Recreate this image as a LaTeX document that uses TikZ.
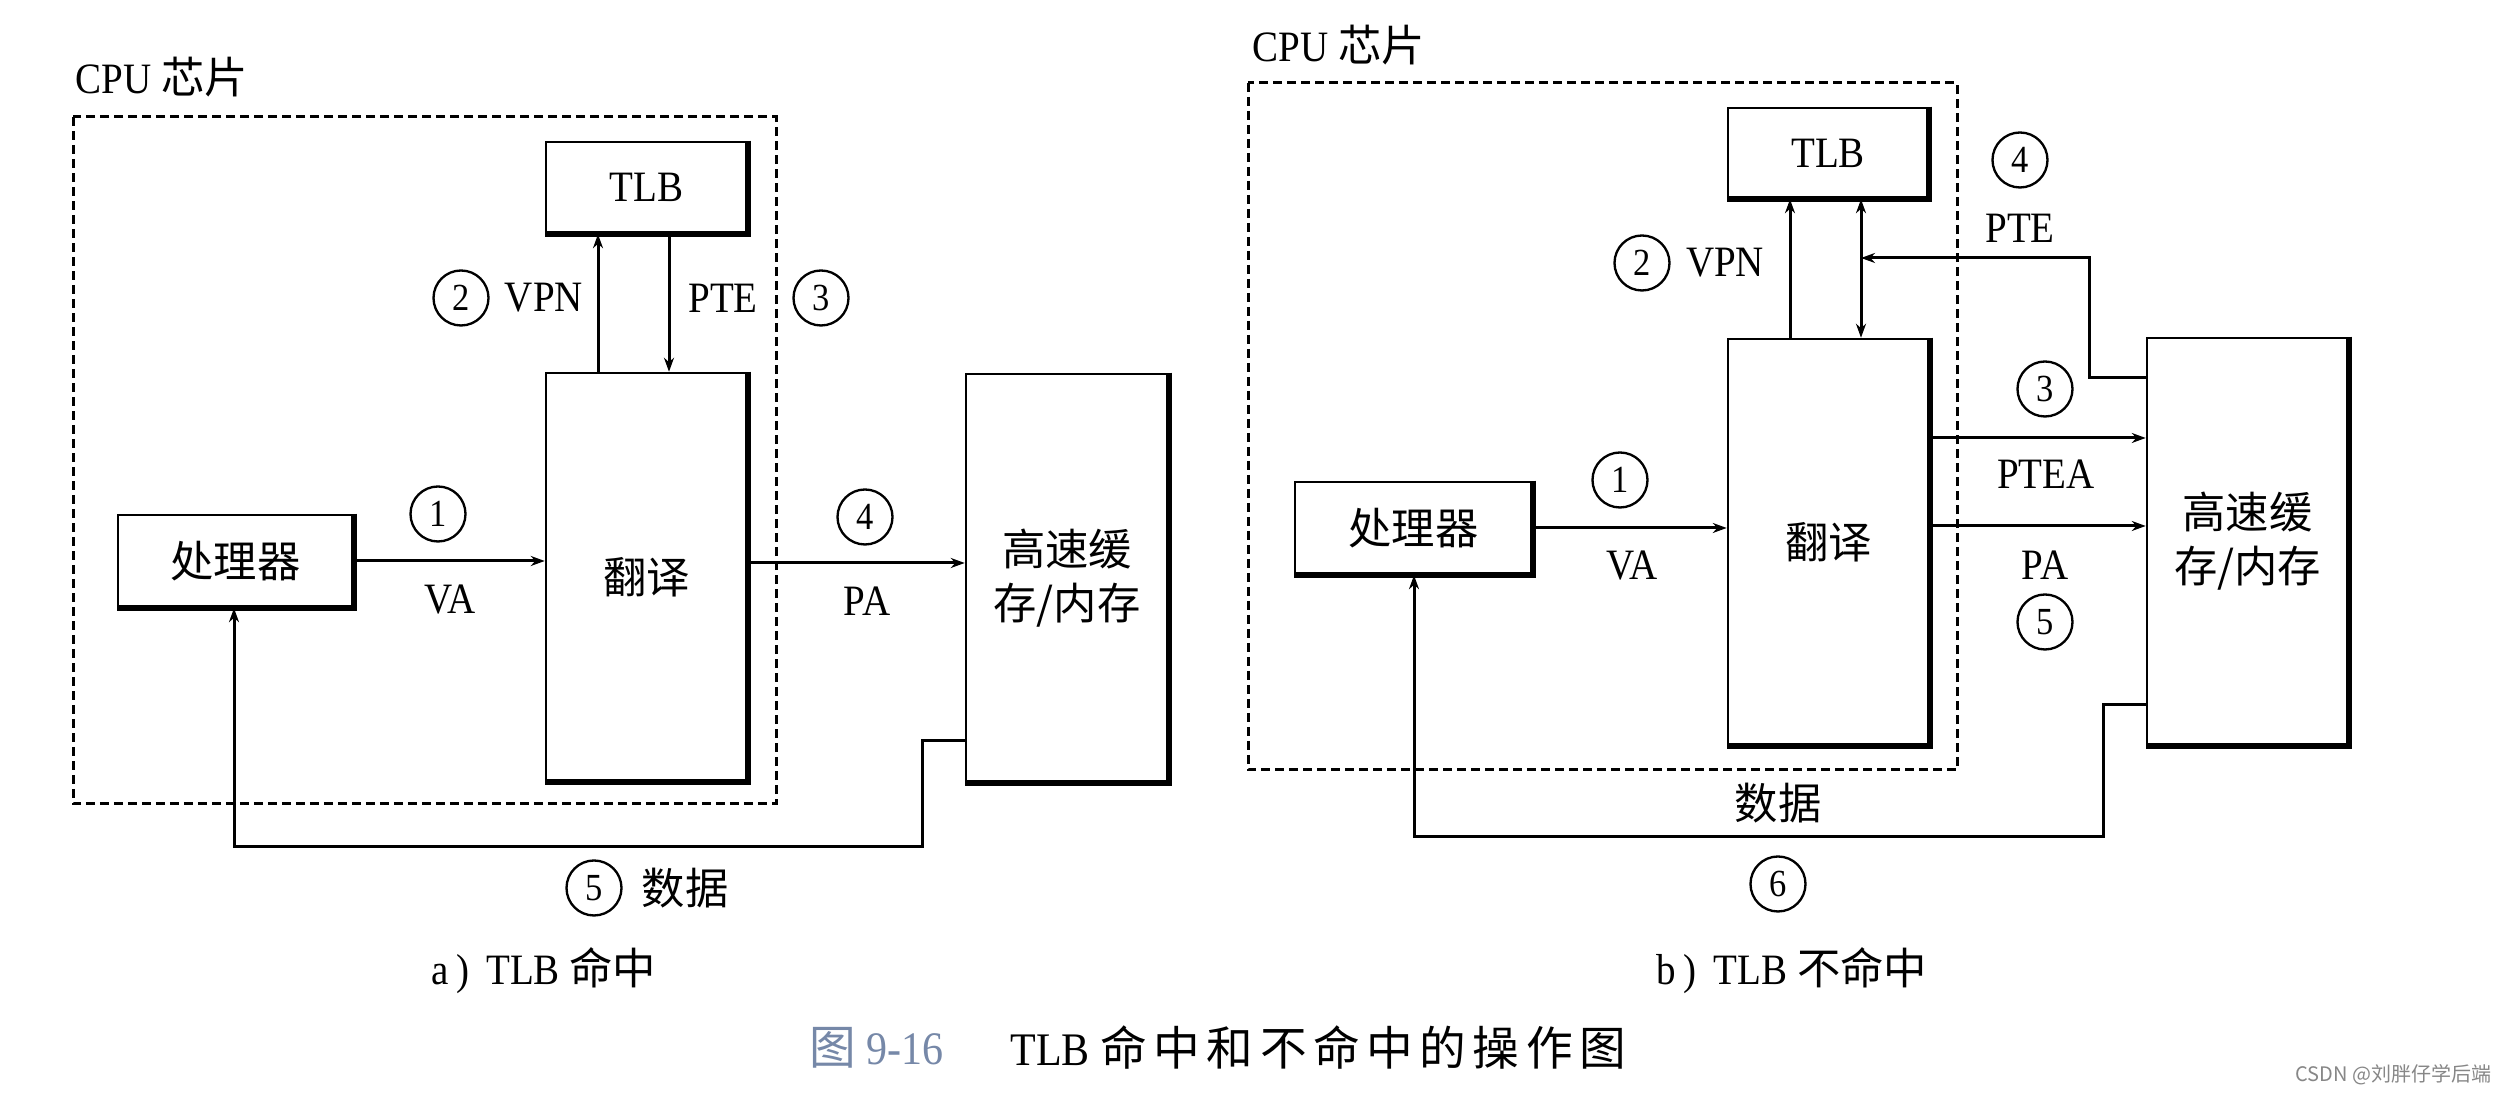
\documentclass[tikz,border=0pt]{standalone}
\usepackage{fontspec}
\setmainfont{Liberation Serif}[FakeStretch=0.9]
\newfontfamily\cjk{Noto Sans CJK SC}
\newfontfamily\cjkcap{Noto Sans CJK SC}[LetterSpace=14]
\usetikzlibrary{arrows.meta}
\definecolor{figblue}{RGB}{118,136,168}
\definecolor{wmgray}{RGB}{135,135,135}
\newcommand\mysize{\fontsize{13}{16.2}\selectfont}
\begin{document}
\begin{tikzpicture}[x=0.3pt,y=-0.3pt,
  box/.style={draw, line width=0.75pt, inner sep=0pt, font=\mysize, align=center},
  thk/.style={line width=1.8pt},
  conn/.style={line width=0.9pt},
  arr/.style={conn,-{Stealth[length=4.2pt,width=3pt]}},
  darr/.style={conn,{Stealth[length=4.2pt,width=3pt]}-{Stealth[length=4.2pt,width=3pt]}},
  num/.style={circle, draw, line width=0.7pt, minimum size=16.5pt, inner sep=0pt, font=\fontsize{11.5}{12}\selectfont},
  lbl/.style={inner sep=0pt, font=\mysize},
  clbl/.style={inner sep=0pt, font=\cjk\mysize},
  chip/.style={draw, line width=0.9pt, dash pattern=on 2.7pt off 1.5pt},
]
\fill[white] (0,0) rectangle (2508,1096);
\useasboundingbox (0,0) rectangle (2508,1096);

% ================= (a) TLB hit =================
\draw[chip] (73,117) rectangle (776,804);
\node[lbl, anchor=west] (cpua) at (75,77) {CPU {\cjk 芯片}};

\node[box, minimum width=60.3pt, minimum height=27.3pt] (tlba) at (646.5,187.5) {TLB};
\node[box, minimum width=60.3pt, minimum height=122.4pt] (tra) at (646.5,577) {\cjk 翻译};
\node[box, minimum width=70.5pt, minimum height=27.6pt] (pra) at (235.5,561) {\cjk 处理器};
\node[box, minimum width=60.6pt, minimum height=122.4pt] (caa) at (1067,578) {\cjk 高速缓\\\cjk 存/内存};
\foreach \n in {tlba,tra,pra,caa}
  \draw[thk] (\n.north east) -- (\n.south east) -- (\n.south west);

\coordinate (vpnxa) at (598,0);
\coordinate (ptexa) at (669,0);
\coordinate (pya) at (0,563);
\coordinate (d1a) at (922,741);
\coordinate (d2a) at (922,847);
\coordinate (d3a) at (234,847);

\draw[arr] (pra.east) -- (pra.east -| tra.west);
\draw[arr] (tra.north -| vpnxa) -- (tlba.south -| vpnxa);
\draw[arr] (tlba.south -| ptexa) -- (tra.north -| ptexa);
\draw[arr] (tra.east |- pya) -- (caa.west |- pya);
\draw[arr] (caa.west |- d1a) -- (d1a) -- (d2a) -- (d3a) -- (pra.south -| d3a);

\node[num] (n1a) at (438,514) {1};
\node[lbl] (vaa) at (450,600) {VA};
\node[num] (n2a) at (461,298) {2};
\node[lbl] (vpna) at (544,298) {VPN};
\node[lbl] (ptea) at (723,298) {PTE};
\node[num] (n3a) at (821,298) {3};
\node[num] (n4a) at (865,517) {4};
\node[lbl] (paa) at (867,601) {PA};
\node[num] (n5a) at (594,888) {5};
\node[clbl] (dataa) at (685,888) {数据};
\node[lbl] (capa) at (544,971) {a\,)\, TLB {\cjk 命中}};

% ================= (b) TLB miss =================
\draw[chip] (1248,83) rectangle (1957,770);
\node[lbl, anchor=west] (cpub) at (1252,45) {CPU {\cjk 芯片}};

\node[box, minimum width=60pt, minimum height=27pt] (tlbb) at (1828,153) {TLB};
\node[box, minimum width=60.3pt, minimum height=121.8pt] (trb) at (1828.5,542) {\cjk 翻译};
\node[box, minimum width=71.1pt, minimum height=27.6pt] (prb) at (1413.5,528) {\cjk 处理器};
\node[box, minimum width=60.3pt, minimum height=122.1pt] (cab) at (2247.5,541.5) {\cjk 高速缓\\\cjk 存/内存};
\foreach \n in {tlbb,trb,prb,cab}
  \draw[thk] (\n.north east) -- (\n.south east) -- (\n.south west);

\coordinate (vpnxb) at (1790,0);
\coordinate (dblxb) at (1861,0);
\coordinate (pte1b) at (2089,378);
\coordinate (pte2b) at (2089,258);
\coordinate (pte3b) at (1861,258);
\coordinate (pteay) at (0,438);
\coordinate (payb) at (0,526);
\coordinate (d1b) at (2103,705);
\coordinate (d2b) at (2103,837);
\coordinate (d3b) at (1414,837);

\draw[arr] (prb.east) -- (prb.east -| trb.west);
\draw[arr] (trb.north -| vpnxb) -- (tlbb.south -| vpnxb);
\draw[darr] (tlbb.south -| dblxb) -- (trb.north -| dblxb);
\draw[arr] (cab.west |- pte1b) -- (pte1b) -- (pte2b) -- (pte3b);
\draw[arr] (trb.east |- pteay) -- (cab.west |- pteay);
\draw[arr] (trb.east |- payb) -- (cab.west |- payb);
\draw[arr] (cab.west |- d1b) -- (d1b) -- (d2b) -- (d3b) -- (prb.south -| d3b);

\node[num] (n1b) at (1620,480) {1};
\node[lbl] (vab) at (1632,566) {VA};
\node[num] (n2b) at (1642,263) {2};
\node[lbl] (vpnb) at (1725,263) {VPN};
\node[num] (n4b) at (2020,160) {4};
\node[lbl] (pteb) at (2020,228) {PTE};
\node[num] (n3b) at (2045,389) {3};
\node[lbl] (pteab) at (2046,474) {PTEA};
\node[lbl] (pab) at (2045,565) {PA};
\node[num] (n5b) at (2045,622) {5};
\node[clbl] (datab) at (1778,803) {数据};
\node[num] (n6b) at (1778,884) {6};
\node[lbl] (capb) at (1792,971) {b\,)\, TLB {\cjk 不命中}};

% ================= figure caption =================
\node[inner sep=0pt, text=figblue, font=\fontsize{14}{16}\selectfont, anchor=west] (figno) at (809,1048) {{\cjk 图} 9-16};
\node[inner sep=0pt, font=\fontsize{14}{16}\selectfont, anchor=west] (figtitle) at (1010,1048) {TLB {\cjkcap 命中和不命中的操作图}};

% watermark
\node[inner sep=0pt, text=wmgray, font=\cjk\fontsize{6}{7}\selectfont, anchor=east] (wm) at (2492,1075) {CSDN @刘胖仔学后端};
\end{tikzpicture}
\end{document}
